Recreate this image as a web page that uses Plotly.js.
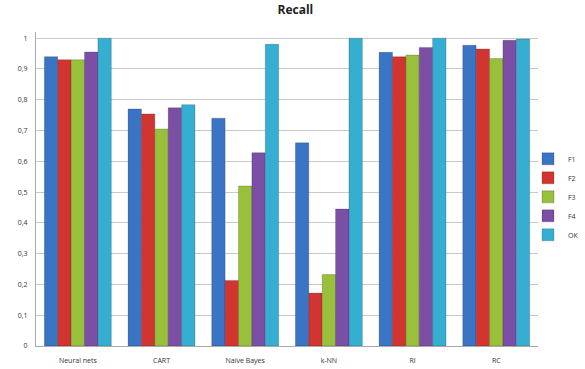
<!DOCTYPE html>
<html><head><meta charset="utf-8">
<script src="https://cdn.plot.ly/plotly-3.0.1.min.js"></script>
<style>html,body{margin:0;padding:0;background:#fff}#chart{width:585px;height:369px}</style>
</head><body><div id="chart"></div>
<script>
var categories = ["Neural nets", "CART", "Naive Bayes", "k-NN", "RI", "RC"];
var seriesNames = ["F1", "F2", "F3", "F4", "OK"];
var F1 = [0.94, 0.77, 0.74, 0.66, 0.954, 0.977];
var F2 = [0.93, 0.754, 0.213, 0.172, 0.94, 0.965];
var F3 = [0.93, 0.705, 0.52, 0.232, 0.945, 0.934];
var F4 = [0.955, 0.774, 0.628, 0.445, 0.97, 0.993];
var OK = [1.0, 0.784, 0.98, 1.0, 1.0, 0.997];
var colors = ["#3a74c4", "#d2352f", "#98c03b", "#7b4fa6", "#35aed2"];
var yTicks = [0, 0.1, 0.2, 0.3, 0.4, 0.5, 0.6, 0.7, 0.8, 0.9, 1];
var yTickText = ["0", "0,1", "0,2", "0,3", "0,4", "0,5", "0,6", "0,7", "0,8", "0,9", "1"];

var values = [F1, F2, F3, F4, OK];
var traces = values.map(function (v, i) {
  return {
    type: "bar", name: seriesNames[i], x: categories, y: v,
    marker: {color: colors[i], line: {color: "rgba(0,0,0,0.3)", width: 0.6}}
  };
});

var W = 585, L = 36, R = 2;
var plotW = W - L - R;
var layout = {
  width: 585, height: 369,
  paper_bgcolor: "#fff", plot_bgcolor: "#fff",
  margin: {l: L, r: R, t: 32, b: 23, pad: 0},
  title: {text: "<b>Recall</b>", font: {family: "Open Sans, Arial", size: 12, color: "#222"}, x: 0.505, xanchor: "center", y: 0.985, yanchor: "top"},
  barmode: "group", bargap: 0.2, bargroupgap: 0,
  xaxis: {type: "category", domain: [0, 503 / plotW], tickfont: {family: "Open Sans, Arial", size: 7, color: "#333"}, showline: true, linecolor: "#aaa", ticks: "", showgrid: false, range: [-0.5, 5.5], ticklabelstandoff: 8},
  yaxis: {range: [0, 1.02], tickvals: yTicks, ticktext: yTickText, tickfont: {family: "Open Sans, Arial", size: 7, color: "#333"}, showgrid: true, gridcolor: "#c9c9c9", gridwidth: 1, showline: true, linecolor: "#aaa", zeroline: false, ticks: "", ticklabelstandoff: 6},
  legend: {x: (528 - L) / plotW, xanchor: "left", y: 0.475, yanchor: "middle", font: {family: "Open Sans, Arial", size: 7, color: "#333"}, itemwidth: 30, tracegroupgap: 0, bgcolor: "rgba(0,0,0,0)"},
  showlegend: true
};
Plotly.newPlot("chart", traces, layout, {displayModeBar: false, staticPlot: true});
</script></body></html>
